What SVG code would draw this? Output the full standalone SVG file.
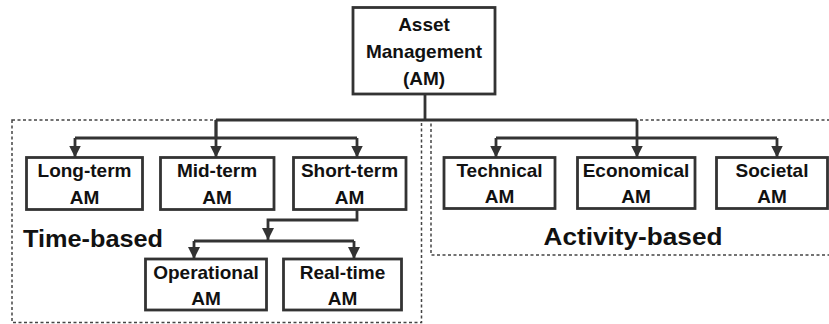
<svg xmlns="http://www.w3.org/2000/svg" width="829" height="324" viewBox="0 0 829 324">
<defs>
<marker id="ah" viewBox="0 0 10 10" refX="10" refY="5" markerWidth="12" markerHeight="12" markerUnits="userSpaceOnUse" orient="auto">
<path d="M0,0 L10,5 L0,10 Z" fill="#333"/>
</marker>
</defs>
<style>
.box{fill:#fff;stroke:#333;stroke-width:2.8}
.grp{fill:none;stroke:#444;stroke-width:1.5;stroke-dasharray:3 2.5}
.t{font-family:"Liberation Sans",Arial,sans-serif;font-weight:bold;font-size:19px;fill:#111;text-anchor:middle}
.big{font-family:"Liberation Sans",Arial,sans-serif;font-weight:bold;font-size:24px;fill:#111}
.c{fill:none;stroke:#333;stroke-width:2.8}
.a{fill:none;stroke:#333;stroke-width:2.8;marker-end:url(#ah)}
</style>
<rect width="829" height="324" fill="#fff"/>
<g id="groups">
<rect id="time-group" class="grp" x="12" y="120" width="409.5" height="202.5"/>
<rect id="activity-group" class="grp" x="431" y="120" width="410" height="135"/>
<text class="big" x="23" y="247" textLength="140" lengthAdjust="spacingAndGlyphs">Time-based</text>
<text class="big" x="543.5" y="244.5" textLength="179" lengthAdjust="spacingAndGlyphs">Activity-based</text>
</g>
<g id="connectors">
<path class="c" d="M425,94 V120 M216,120 H637"/>
<path class="c" d="M216,120 V138 M75,138 H357"/>
<path class="a" d="M75,138 V157.5"/>
<path class="a" d="M216,120 V157.5"/>
<path class="a" d="M357,138 V157.5"/>
<path class="c" d="M496,138 H777"/>
<path class="a" d="M496,138 V157.5"/>
<path class="a" d="M637,120 V157.5"/>
<path class="a" d="M777,138 V157.5"/>
<path class="a" d="M357,209.5 V220 H268 V240"/>
<path class="c" d="M194,241 H354"/>
<path class="a" d="M194,241 V259"/>
<path class="a" d="M354,241 V259"/>
</g>
<g id="asset-management">
<rect class="box" x="353" y="7.5" width="142" height="86.5"/>
<text class="t" x="424" y="31">Asset</text>
<text class="t" x="424" y="58">Management</text>
<text class="t" x="424" y="85">(AM)</text>
</g>
<g id="long-term">
<rect class="box" x="26.5" y="157.5" width="116" height="52"/>
<text class="t" x="84.5" y="177">Long-term</text>
<text class="t" x="84.5" y="203.5">AM</text>
</g>
<g id="mid-term">
<rect class="box" x="160.5" y="157.5" width="113.5" height="52"/>
<text class="t" x="217" y="177">Mid-term</text>
<text class="t" x="217" y="203.5">AM</text>
</g>
<g id="short-term">
<rect class="box" x="293.5" y="157.5" width="112.5" height="52"/>
<text class="t" x="349.5" y="177">Short-term</text>
<text class="t" x="349.5" y="203.5">AM</text>
</g>
<g id="operational">
<rect class="box" x="145.5" y="259" width="121" height="51"/>
<text class="t" x="206" y="278.5">Operational</text>
<text class="t" x="206" y="305">AM</text>
</g>
<g id="real-time">
<rect class="box" x="283.5" y="259" width="118" height="51"/>
<text class="t" x="342.5" y="278.5">Real-time</text>
<text class="t" x="342.5" y="305">AM</text>
</g>
<g id="technical">
<rect class="box" x="444" y="157.5" width="111" height="51"/>
<text class="t" x="499.5" y="177">Technical</text>
<text class="t" x="499.5" y="203">AM</text>
</g>
<g id="economical">
<rect class="box" x="577.5" y="157.5" width="117.5" height="51"/>
<text class="t" x="636" y="177">Economical</text>
<text class="t" x="636" y="203">AM</text>
</g>
<g id="societal">
<rect class="box" x="716.5" y="157.5" width="111" height="51"/>
<text class="t" x="772" y="177">Societal</text>
<text class="t" x="772" y="203">AM</text>
</g>
</svg>
